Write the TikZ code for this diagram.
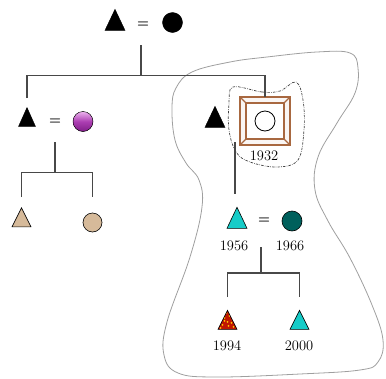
\documentclass[tikz,border=0pt]{standalone}
\usetikzlibrary{shapes.geometric,positioning}
\definecolor{kingray}{RGB}{72,72,72}
\definecolor{ctan}{RGB}{214,186,154}
\definecolor{cteal}{RGB}{22,204,200}
\definecolor{cdteal}{RGB}{0,96,92}
\definecolor{cbrown}{RGB}{168,104,64}
\definecolor{cpurple}{RGB}{172,62,178}
\definecolor{cpink}{RGB}{236,178,238}
\definecolor{cplum}{RGB}{128,30,136}
\definecolor{cred}{RGB}{192,22,0}
\definecolor{cyel}{RGB}{255,196,0}
\tikzset{
  male/.style={isosceles triangle, isosceles triangle apex angle=52,
               isosceles triangle stretches, shape border rotate=90,
               draw=black, fill=black, inner sep=0pt, outer sep=0pt,
               minimum width=20pt, minimum height=21pt},
  female/.style={circle, draw=black, fill=black, inner sep=0pt, outer sep=0pt,
                 minimum size=20pt},
  eqsign/.style={font=\sffamily\bfseries\fontsize{14}{14}\selectfont,
                 text=kingray, inner sep=0pt},
  yr/.style={font=\fontsize{14.5}{16}\selectfont, inner sep=0pt},
  kin/.style={draw=kingray, line width=1.2pt},
  frm/.style={draw=cbrown, line width=1.3pt},
  hhline/.style={draw=gray!75, line width=0.8pt},
  subline/.style={draw=gray!50!black, line width=0.7pt,
                  dash pattern=on 2.5pt off 1.2pt on 0.6pt off 1.2pt},
  speckled/.style={path picture={
      \foreach \p in {(-3,-2),(2,-4),(-5,5),(4,3),(0,2),(-1,-7),(6,7),(-7,8),(1,6),(-3,1)}
        \fill[cyel] ([shift={\p}]path picture bounding box.center) circle (0.9pt);}},
}
\begin{document}
\begin{tikzpicture}[x=1pt,y=-1pt]
  \useasboundingbox (0,0) rectangle (386,378);
  % household outline
  \draw[hhline] plot[smooth cycle, tension=0.65] coordinates {
    (176,88) (192,72) (230,62) (267,57) (317,52) (350,53) (358,68) (355,93)
    (337,123) (318,157) (315,190) (328,221) (350,258) (372,305) (383,340)
    (378,362) (360,370) (300,374) (217,377) (178,373) (164,355) (167,322)
    (190,257) (202,207) (199,180) (186,163) (175,140) (172,108)};
  \draw[subline] plot[smooth cycle, tension=0.6] coordinates {
    (233,87) (262,92) (280,91) (296,82) (303,100) (304,130) (298,160)
    (277,167) (250,162) (236,152) (229,130) (229,104)};

  % generation I
  \node[male] (m1) at (115,24) {};
  \node[eqsign] (eq1) at (143,25) {=};
  \node[female] (f1) at (172.5,22.5) {};

  % generation II
  \node[male, minimum width=17pt, minimum height=19pt] (m2) at (27,121) {};
  \node[eqsign] (eq2) at (55,122) {=};
  \node[female, top color=cpink, bottom color=cplum, middle color=cpurple] (f2) at (83,121.5) {};
  \node[male] (m4) at (215,121) {};
  \node[rectangle, frm, fill=cbrown!6, minimum width=50pt, minimum height=48pt,
        inner sep=0pt, outer sep=0pt] (sq) at (265,121) {};
  \draw[frm] (sq.north west) -- ++(6,6) coordinate (q1)
             (sq.north east) -- ++(-6,6) coordinate (q2)
             (sq.south east) -- ++(-6,-6) coordinate (q3)
             (sq.south west) -- ++(6,-6) coordinate (q4);
  \draw[frm, fill=white] (q1) -- (q2) -- (q3) -- (q4) -- cycle;
  \node[female, fill=white, line width=0.8pt] (f4) at (sq.center) {};
  \node[yr] (y4) at (264,156) {1932};

  % generation III
  \node[male, fill=ctan, line width=0.6pt, minimum width=19pt, minimum height=19pt] (m3) at (21.5,221) {};
  \node[female, fill=ctan, line width=0.6pt, minimum size=19pt] (f3) at (92.5,222.5) {};
  \node[male, fill=cteal, line width=0.6pt] (m5) at (237,222) {};
  \node[eqsign] (eq5) at (264,221) {=};
  \node[female, fill=cdteal, line width=0.6pt] (f5) at (292,221) {};
  \node[yr] (y5) at (234,246) {1956};
  \node[yr] (y6) at (290,246) {1966};

  % generation IV
  \node[male, fill=cred, speckled, line width=0.6pt, minimum width=19pt, minimum height=19pt] (m6) at (227.5,323.5) {};
  \node[male, fill=cteal, line width=0.6pt, minimum width=19pt, minimum height=19pt] (m7) at (299.5,323.5) {};
  \node[yr] (y7) at (227,346) {1994};
  \node[yr] (y8) at (299,346) {2000};

  % lines of descent
  \coordinate (d1) at (141,45);   \coordinate (s1) at (141,75.5);
  \coordinate (s1l) at (27,75.5); \coordinate (s1r) at (265,75.5);
  \coordinate (c2) at (27,98);
  \draw[kin] (d1) -- (s1);
  \draw[kin] (c2) -- (s1l) -- (s1r) -- (sq.north);

  \coordinate (d2) at (55,142);   \coordinate (s2) at (55,172.5);
  \coordinate (s2l) at (21.5,172.5); \coordinate (s2r) at (92.5,172.5);
  \coordinate (c3) at (21.5,197); \coordinate (c4) at (92.5,197);
  \draw[kin] (d2) -- (s2);
  \draw[kin] (c3) -- (s2l) -- (s2r) -- (c4);

  \coordinate (d4) at (235,142);  \coordinate (c5) at (235,194);
  \draw[kin] (d4) -- (c5);

  \coordinate (d5) at (261,247);  \coordinate (s5) at (261,273);
  \coordinate (s5l) at (227.5,273); \coordinate (s5r) at (299.5,273);
  \coordinate (c6) at (227.5,297); \coordinate (c7) at (299.5,297);
  \draw[kin] (d5) -- (s5);
  \draw[kin] (c6) -- (s5l) -- (s5r) -- (c7);
\end{tikzpicture}
\end{document}
